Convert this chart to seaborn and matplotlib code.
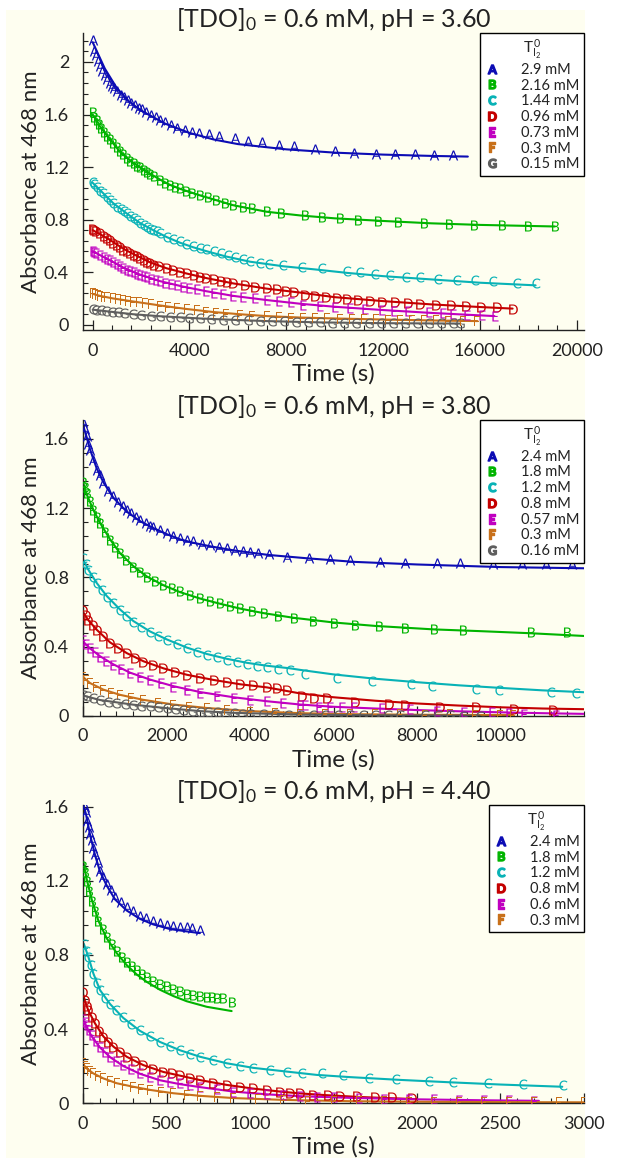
"""Absorbance decay at 468 nm for three pH values, letter markers plus fitted curves."""

import matplotlib
matplotlib.use("Agg")
import matplotlib.pyplot as plt
from matplotlib.lines import Line2D
from matplotlib.patches import Rectangle
from matplotlib.ticker import AutoMinorLocator, FormatStrFormatter
import seaborn as sns

LETTERS = ["A", "B", "C", "D", "E", "F", "G"]
COLORS = ["#0c0cb4", "#00b400", "#08b2b6", "#c40000", "#c000c0", "#c8701a", "#5e5e5e"]
IVORY = "#fefef0"

# ---- pH 3.60 ----
p1_labels = ["2.9 mM", "2.16 mM", "1.44 mM", "0.96 mM", "0.73 mM", "0.3 mM", "0.15 mM"]
p1_A_pts = [(0, 2.17), (40, 2.08), (120, 2.05), (200, 2.01), (300, 1.97), (400, 1.93), (500, 1.90), (600, 1.87),
            (700, 1.84), (800, 1.82), (900, 1.80), (1000, 1.78), (1150, 1.75), (1300, 1.73), (1450, 1.71),
            (1600, 1.69), (1750, 1.67), (1900, 1.65), (2050, 1.64), (2200, 1.62), (2400, 1.60), (2600, 1.58),
            (2800, 1.56), (3000, 1.54), (3250, 1.52), (3500, 1.50), (3800, 1.48), (4100, 1.47), (4400, 1.46),
            (4800, 1.45), (5200, 1.44), (5900, 1.42), (6400, 1.40), (7000, 1.39), (7700, 1.37), (8300, 1.36),
            (9200, 1.34), (10000, 1.32), (10800, 1.31), (11700, 1.30), (12500, 1.30), (13300, 1.30),
            (14100, 1.29), (14900, 1.29)]
p1_A_fit = [(0, 2.15), (500, 1.95), (1000, 1.80), (1500, 1.70), (2000, 1.63), (3000, 1.53), (4000, 1.46),
            (5000, 1.41), (6000, 1.375), (8000, 1.335), (10000, 1.31), (12000, 1.295), (14000, 1.285),
            (15500, 1.28)]
p1_B_pts = [(0, 1.62), (60, 1.58), (165, 1.56), (250, 1.53), (350, 1.50), (450, 1.47), (578, 1.44), (700, 1.41),
            (850, 1.38), (1000, 1.35), (1130, 1.32), (1250, 1.30), (1400, 1.27), (1540, 1.25), (1700, 1.23),
            (1850, 1.21), (1950, 1.20), (2100, 1.18), (2250, 1.16), (2370, 1.15), (2550, 1.13), (2780, 1.10),
            (3000, 1.08), (3190, 1.065), (3400, 1.05), (3600, 1.04), (3850, 1.02), (4100, 1.005), (4430, 0.99),
            (4750, 0.97), (5100, 0.95), (5450, 0.93), (5800, 0.915), (6200, 0.90), (6600, 0.885), (7190, 0.865),
            (7800, 0.85), (8780, 0.835), (9460, 0.82), (10220, 0.81), (10970, 0.80), (11800, 0.79),
            (12620, 0.785), (13700, 0.777), (14720, 0.767), (15760, 0.76), (16900, 0.76), (17980, 0.752),
            (19100, 0.755)]
p1_B_fit = [(0, 1.60), (165, 1.557), (300, 1.51), (578, 1.443), (850, 1.38), (1130, 1.316), (1540, 1.25),
            (1950, 1.20), (2370, 1.15), (2780, 1.105), (3190, 1.065), (3600, 1.035), (4430, 0.985),
            (5800, 0.91), (7190, 0.86), (8570, 0.832), (10000, 0.81), (12000, 0.79), (14000, 0.772),
            (16000, 0.76), (19100, 0.748)]
p1_C_pts = [(0, 1.09), (60, 1.07), (165, 1.05), (300, 1.02), (440, 1.00), (600, 0.97), (720, 0.95), (850, 0.925),
            (1000, 0.90), (1150, 0.88), (1280, 0.865), (1400, 0.85), (1550, 0.83), (1700, 0.81), (1820, 0.795),
            (1950, 0.775), (2100, 0.76), (2250, 0.745), (2380, 0.73), (2500, 0.72), (2650, 0.71), (2800, 0.695),
            (3050, 0.67), (3300, 0.655), (3600, 0.635), (3850, 0.615), (4150, 0.60), (4430, 0.585),
            (4700, 0.575), (5000, 0.56), (5300, 0.545), (5600, 0.53), (5900, 0.515), (6200, 0.50),
            (6500, 0.485), (6900, 0.47), (7300, 0.46), (7880, 0.456), (8640, 0.438), (9460, 0.43),
            (10500, 0.412), (11050, 0.40), (11670, 0.387), (12290, 0.375), (12950, 0.367), (13530, 0.362),
            (14270, 0.349), (15040, 0.342), (15800, 0.342), (16540, 0.334), (17520, 0.321), (18320, 0.321)]
p1_C_fit = [(0, 1.08), (165, 1.05), (440, 1.0), (850, 0.925), (1400, 0.848), (1950, 0.775), (2500, 0.72),
            (3050, 0.668), (3600, 0.625), (4150, 0.59), (4700, 0.56), (5500, 0.52), (6500, 0.48), (7880, 0.445),
            (9250, 0.42), (10500, 0.395), (12000, 0.37), (14000, 0.345), (16000, 0.32), (18300, 0.30)]
p1_D_pts = [(0, 0.73), (60, 0.72), (150, 0.71), (300, 0.696), (450, 0.675), (600, 0.66), (720, 0.645),
            (850, 0.625), (1000, 0.61), (1130, 0.59), (1270, 0.57), (1400, 0.56), (1550, 0.545), (1700, 0.53),
            (1820, 0.52), (1950, 0.51), (2100, 0.495), (2250, 0.48), (2370, 0.468), (2550, 0.455),
            (2750, 0.445), (3050, 0.43), (3300, 0.42), (3600, 0.405), (3880, 0.392), (4200, 0.38),
            (4450, 0.365), (4700, 0.355), (5000, 0.345), (5300, 0.335), (5550, 0.325), (5800, 0.317),
            (6300, 0.30), (6700, 0.29), (7190, 0.279), (7600, 0.27), (8000, 0.26), (8300, 0.25), (8780, 0.228),
            (9190, 0.22), (9640, 0.21), (10080, 0.205), (10500, 0.195), (10970, 0.19), (11460, 0.182),
            (11940, 0.175), (12490, 0.17), (13030, 0.166), (13530, 0.16), (14190, 0.152), (14810, 0.148),
            (15410, 0.139), (16040, 0.132), (16690, 0.132), (17350, 0.121)]
p1_D_fit = [(0, 0.72), (300, 0.69), (720, 0.645), (1270, 0.578), (1820, 0.525), (2370, 0.475), (3050, 0.43),
            (3880, 0.39), (4700, 0.355), (5800, 0.315), (7190, 0.275), (8570, 0.245), (10000, 0.21),
            (12000, 0.18), (14000, 0.155), (16000, 0.135), (17350, 0.123)]
p1_E_pts = [(0, 0.56), (60, 0.55), (150, 0.545), (300, 0.53), (450, 0.515), (600, 0.50), (720, 0.49),
            (850, 0.475), (1000, 0.46), (1130, 0.445), (1270, 0.43), (1400, 0.42), (1550, 0.41), (1700, 0.40),
            (1820, 0.39), (1950, 0.38), (2100, 0.37), (2250, 0.36), (2400, 0.35), (2600, 0.34), (2780, 0.33),
            (3000, 0.32), (3250, 0.31), (3500, 0.30), (3740, 0.29), (4000, 0.28), (4300, 0.27), (4700, 0.255),
            (5000, 0.245), (5400, 0.235), (5800, 0.222), (6200, 0.21), (6700, 0.20), (7190, 0.19), (7700, 0.18),
            (8200, 0.17), (8700, 0.152), (9390, 0.139), (10010, 0.135), (10630, 0.127), (11250, 0.12),
            (11940, 0.115), (12450, 0.106), (13030, 0.101), (13900, 0.094), (14480, 0.089), (14890, 0.084),
            (15450, 0.076), (16070, 0.076), (16620, 0.068)]
p1_E_fit = [(0, 0.56), (300, 0.53), (720, 0.49), (1270, 0.435), (1950, 0.382), (2780, 0.332), (3740, 0.29),
            (4700, 0.255), (5800, 0.22), (7190, 0.188), (8570, 0.16), (10000, 0.137), (12000, 0.112),
            (14000, 0.09), (16600, 0.066)]
p1_F_pts = [(0, 0.24), (80, 0.235), (200, 0.225), (300, 0.22), (450, 0.215), (600, 0.21), (850, 0.20),
            (1050, 0.195), (1250, 0.19), (1450, 0.183), (1680, 0.177), (1900, 0.17), (2150, 0.163),
            (2400, 0.155), (2780, 0.145), (3100, 0.138), (3500, 0.128), (3880, 0.119), (4300, 0.11),
            (4700, 0.10), (5100, 0.092), (5500, 0.085), (6090, 0.076), (6600, 0.07), (7190, 0.063),
            (7700, 0.058), (8200, 0.055), (8700, 0.052), (9200, 0.05), (9700, 0.048), (10200, 0.046),
            (10700, 0.045), (11200, 0.043), (11700, 0.042), (12200, 0.04), (12700, 0.038), (13200, 0.036),
            (13700, 0.035), (14200, 0.033), (14700, 0.031), (15300, 0.03), (15870, 0.028)]
p1_F_fit = [(0, 0.235), (300, 0.22), (850, 0.2), (1680, 0.177), (2780, 0.147), (3880, 0.12), (4980, 0.097),
            (6090, 0.08), (7190, 0.066), (8570, 0.055), (10000, 0.048), (12000, 0.04), (14000, 0.033),
            (15900, 0.028)]
p1_G_pts = [(0, 0.12), (150, 0.115), (350, 0.11), (550, 0.105), (800, 0.10), (1050, 0.095), (1300, 0.087),
            (1680, 0.08), (2000, 0.075), (2400, 0.07), (2800, 0.065), (3200, 0.06), (3600, 0.056),
            (4000, 0.052), (4430, 0.05), (4900, 0.045), (5400, 0.04), (5900, 0.037), (6400, 0.033),
            (6900, 0.03), (7400, 0.027), (7900, 0.025), (8400, 0.022), (8900, 0.02), (9400, 0.018),
            (9900, 0.017), (10400, 0.016), (10900, 0.015), (11400, 0.014), (11900, 0.013), (12400, 0.013),
            (12900, 0.012), (13400, 0.012), (13900, 0.011), (14400, 0.011), (14900, 0.01), (15180, 0.01)]
p1_G_fit = [(0, 0.115), (800, 0.098), (1680, 0.08), (2780, 0.065), (4430, 0.048), (6000, 0.036), (7190, 0.028),
            (9400, 0.018), (12000, 0.012), (15200, 0.009)]

# ---- pH 3.80 ----
p2_labels = ["2.4 mM", "1.8 mM", "1.2 mM", "0.8 mM", "0.57 mM", "0.3 mM", "0.16 mM"]
p2_A_pts = [(0, 1.70), (40, 1.66), (88, 1.615), (130, 1.57), (168, 1.537), (250, 1.48), (328, 1.42), (400, 1.39),
            (488, 1.345), (600, 1.30), (728, 1.268), (850, 1.235), (950, 1.21), (1048, 1.19), (1150, 1.17),
            (1260, 1.15), (1367, 1.133), (1500, 1.115), (1600, 1.10), (1687, 1.094), (1850, 1.075),
            (2007, 1.056), (2150, 1.04), (2326, 1.027), (2480, 1.015), (2646, 1.008), (2850, 0.995),
            (3046, 0.988), (3250, 0.978), (3450, 0.968), (3645, 0.96), (3830, 0.95), (4005, 0.945),
            (4200, 0.94), (4444, 0.935), (4885, 0.921), (5403, 0.911), (5920, 0.905), (6400, 0.898),
            (7120, 0.888), (7722, 0.883), (8480, 0.883), (9026, 0.883), (9832, 0.88), (10520, 0.88),
            (11080, 0.878), (11720, 0.878)]
p2_A_fit = [(0, 1.68), (88, 1.61), (168, 1.54), (328, 1.43), (488, 1.35), (728, 1.26), (1048, 1.18), (1367, 1.125),
            (1687, 1.085), (2007, 1.05), (2326, 1.02), (2646, 1.0), (3046, 0.98), (3645, 0.955), (4444, 0.93),
            (5403, 0.91), (6500, 0.89), (8000, 0.875), (10000, 0.86), (12000, 0.853)]
p2_B_pts = [(0, 1.354), (40, 1.32), (88, 1.287), (170, 1.24), (248, 1.19), (330, 1.15), (408, 1.114),
            (520, 1.065), (648, 1.017), (770, 0.975), (887, 0.94), (1040, 0.90), (1207, 0.863), (1370, 0.832),
            (1527, 0.805), (1720, 0.78), (1927, 0.757), (2120, 0.737), (2326, 0.719), (2560, 0.70),
            (2806, 0.68), (3040, 0.665), (3285, 0.651), (3520, 0.637), (3765, 0.623), (4040, 0.608),
            (4324, 0.594), (4680, 0.58), (5044, 0.565), (5506, 0.551), (6003, 0.539), (6507, 0.526),
            (7083, 0.52), (7722, 0.507), (8417, 0.501), (9105, 0.497), (10720, 0.487), (11600, 0.487)]
p2_B_fit = [(0, 1.35), (88, 1.28), (248, 1.19), (408, 1.115), (648, 1.02), (887, 0.94), (1207, 0.865),
            (1527, 0.806), (1927, 0.755), (2326, 0.715), (2806, 0.678), (3285, 0.648), (3765, 0.62),
            (4324, 0.594), (5044, 0.567), (6000, 0.54), (7000, 0.52), (8400, 0.50), (9500, 0.49),
            (10700, 0.478), (12000, 0.462)]
p2_C_pts = [(0, 0.911), (60, 0.875), (128, 0.844), (230, 0.805), (328, 0.767), (450, 0.728), (568, 0.69),
            (720, 0.65), (887, 0.613), (1040, 0.578), (1207, 0.545), (1400, 0.515), (1607, 0.487), (1800, 0.462),
            (2007, 0.44), (2240, 0.415), (2486, 0.391), (2720, 0.372), (2966, 0.353), (3200, 0.338),
            (3445, 0.324), (3690, 0.31), (3925, 0.30), (4160, 0.29), (4404, 0.281), (4680, 0.272),
            (4964, 0.266), (5324, 0.245), (6084, 0.218), (6923, 0.202), (7866, 0.183), (8362, 0.173),
            (9417, 0.156), (9960, 0.15), (11200, 0.137), (11800, 0.131)]
p2_C_fit = [(0, 0.905), (128, 0.845), (328, 0.768), (568, 0.693), (887, 0.615), (1207, 0.548), (1607, 0.488),
            (2007, 0.442), (2486, 0.395), (2966, 0.358), (3445, 0.33), (3925, 0.307), (4404, 0.29),
            (4964, 0.275), (5204, 0.266), (6000, 0.24), (7000, 0.215), (8000, 0.195), (9000, 0.177),
            (10000, 0.162), (11000, 0.148), (12000, 0.137)]
p2_D_pts = [(0, 0.613), (60, 0.585), (128, 0.555), (230, 0.525), (328, 0.497), (480, 0.46), (648, 0.42),
            (850, 0.39), (1048, 0.362), (1250, 0.337), (1447, 0.314), (1680, 0.295), (1927, 0.276),
            (2200, 0.256), (2486, 0.237), (2800, 0.222), (3126, 0.208), (3450, 0.196), (3765, 0.185),
            (4080, 0.177), (4404, 0.17), (4650, 0.16), (4884, 0.15), (5250, 0.118), (5523, 0.106),
            (5843, 0.102), (6523, 0.079), (7321, 0.069), (7722, 0.064), (8561, 0.054), (9417, 0.05),
            (10320, 0.039), (11254, 0.035)]
p2_D_fit = [(0, 0.60), (128, 0.553), (328, 0.498), (648, 0.425), (1048, 0.363), (1447, 0.316), (1927, 0.275),
            (2486, 0.238), (3126, 0.208), (3765, 0.183), (4404, 0.165), (5204, 0.13), (6000, 0.108),
            (7000, 0.088), (8000, 0.072), (9000, 0.06), (10000, 0.05), (11000, 0.043), (12000, 0.039)]
p2_E_pts = [(0, 0.44), (80, 0.415), (168, 0.391), (280, 0.367), (408, 0.343), (560, 0.318), (728, 0.295),
            (920, 0.27), (1127, 0.247), (1360, 0.227), (1607, 0.208), (1880, 0.188), (2166, 0.17), (2480, 0.15),
            (2806, 0.131), (3200, 0.115), (3605, 0.102), (4000, 0.094), (4404, 0.087), (4800, 0.075),
            (5204, 0.064), (5324, 0.064), (5643, 0.054), (5923, 0.054), (6203, 0.052), (6483, 0.05),
            (7163, 0.044), (7842, 0.039), (8481, 0.031), (9121, 0.025), (9800, 0.02), (10200, 0.017),
            (10560, 0.014), (11320, 0.008)]
p2_E_fit = [(0, 0.43), (168, 0.39), (408, 0.345), (728, 0.298), (1127, 0.25), (1607, 0.21), (2166, 0.172),
            (2806, 0.138), (3605, 0.108), (4404, 0.085), (5204, 0.066), (6000, 0.053), (7000, 0.043),
            (8000, 0.034), (9000, 0.027), (10000, 0.021), (11000, 0.016), (12000, 0.012)]
p2_F_pts = [(0, 0.227), (80, 0.205), (168, 0.189), (320, 0.168), (488, 0.15), (680, 0.135), (887, 0.121),
            (1150, 0.105), (1447, 0.092), (1800, 0.077), (2166, 0.064), (2550, 0.054), (2966, 0.044),
            (3450, 0.034), (4005, 0.025), (4600, 0.018), (5204, 0.012), (5800, 0.012), (6400, 0.01),
            (7000, 0.012), (7600, 0.01), (8200, 0.008), (8800, 0.01), (9400, 0.008), (10000, 0.006),
            (10300, 0.008)]
p2_F_fit = [(0, 0.225), (168, 0.19), (488, 0.152), (887, 0.122), (1447, 0.093), (2166, 0.066), (2966, 0.046),
            (4005, 0.028), (5204, 0.016), (6500, 0.01), (8000, 0.007), (10300, 0.005)]
p2_G_pts = [(0, 0.121), (100, 0.113), (250, 0.103), (408, 0.092), (600, 0.083), (800, 0.075), (1000, 0.07),
            (1207, 0.064), (1400, 0.06), (1600, 0.055), (1800, 0.05), (2007, 0.044), (2200, 0.04),
            (2400, 0.035), (2600, 0.03), (2806, 0.025), (3000, 0.023), (3200, 0.02), (3400, 0.018),
            (3605, 0.015), (3800, 0.014), (4000, 0.012), (4300, 0.011), (4600, 0.009), (4900, 0.008),
            (5204, 0.006), (5500, 0.006), (5800, 0.005), (6100, 0.005), (6400, 0.005), (6700, 0.004),
            (7000, 0.004), (7300, 0.004), (7600, 0.004), (8200, 0.003), (8500, 0.003), (8800, 0.003),
            (9100, 0.002), (9500, 0.002)]
p2_G_fit = [(0, 0.118), (408, 0.092), (1207, 0.065), (2007, 0.045), (2806, 0.028), (3605, 0.018), (5204, 0.008),
            (7000, 0.004), (9500, 0.002)]

# ---- pH 4.40 ----
p3_labels = ["2.4 mM", "1.8 mM", "1.2 mM", "0.8 mM", "0.6 mM", "0.3 mM"]
p3_A_pts = [(10, 1.60), (18, 1.57), (26, 1.525), (34, 1.49), (42, 1.453), (52, 1.42), (62, 1.38), (72, 1.345),
            (87, 1.30), (102, 1.255), (122, 1.22), (142, 1.184), (167, 1.15), (192, 1.112), (227, 1.085),
            (262, 1.058), (300, 1.035), (341, 1.013), (380, 0.998), (421, 0.986), (460, 0.975), (500, 0.962),
            (540, 0.958), (580, 0.952), (620, 0.95), (650, 0.945), (700, 0.936)]
p3_A_fit = [(5, 1.60), (18, 1.56), (42, 1.45), (72, 1.34), (102, 1.25), (142, 1.175), (192, 1.10), (262, 1.04),
            (341, 0.995), (421, 0.965), (521, 0.94), (600, 0.93), (700, 0.918)]
p3_B_pts = [(0, 1.282), (10, 1.25), (22, 1.20), (37, 1.145), (52, 1.094), (72, 1.04), (92, 0.986), (117, 0.94),
            (142, 0.896), (172, 0.86), (202, 0.824), (232, 0.79), (262, 0.761), (292, 0.738), (321, 0.717),
            (351, 0.698), (381, 0.68), (421, 0.662), (461, 0.645), (501, 0.63), (541, 0.618), (581, 0.604),
            (621, 0.591), (660, 0.585), (700, 0.58), (741, 0.573), (770, 0.572), (800, 0.57), (840, 0.565),
            (890, 0.546)]
p3_B_fit = [(0, 1.31), (22, 1.21), (52, 1.10), (92, 0.985), (142, 0.89), (202, 0.81), (262, 0.745), (321, 0.695),
            (381, 0.655), (461, 0.612), (541, 0.578), (621, 0.55), (741, 0.52), (890, 0.497)]
p3_C_pts = [(5, 0.86), (18, 0.82), (32, 0.788), (47, 0.745), (62, 0.699), (82, 0.65), (102, 0.609), (132, 0.57),
            (162, 0.537), (200, 0.50), (241, 0.465), (290, 0.427), (341, 0.393), (400, 0.36), (461, 0.33),
            (520, 0.306), (581, 0.286), (640, 0.266), (701, 0.25), (780, 0.232), (860, 0.214), (940, 0.2),
            (1020, 0.187), (1120, 0.177), (1220, 0.169), (1309, 0.163), (1429, 0.16), (1555, 0.151),
            (1715, 0.138), (1874, 0.128), (2074, 0.12), (2214, 0.115), (2423, 0.109), (2633, 0.102),
            (2872, 0.097)]
p3_C_fit = [(5, 0.86), (32, 0.79), (62, 0.70), (102, 0.61), (162, 0.535), (241, 0.46), (341, 0.39), (461, 0.33),
            (581, 0.285), (701, 0.25), (860, 0.215), (1020, 0.19), (1220, 0.17), (1400, 0.152), (1600, 0.14),
            (1900, 0.125), (2200, 0.112), (2500, 0.1), (2870, 0.088)]
p3_D_pts = [(0, 0.60), (12, 0.555), (22, 0.525), (32, 0.50), (52, 0.465), (72, 0.43), (97, 0.39), (122, 0.357),
            (152, 0.33), (182, 0.303), (222, 0.275), (262, 0.25), (311, 0.225), (361, 0.205), (421, 0.186),
            (481, 0.169), (531, 0.16), (581, 0.151), (641, 0.137), (701, 0.124), (780, 0.11), (860, 0.097),
            (940, 0.088), (1020, 0.079), (1100, 0.07), (1180, 0.061), (1240, 0.056), (1299, 0.052),
            (1379, 0.043), (1469, 0.043), (1539, 0.038), (1639, 0.038), (1749, 0.035), (1848, 0.031),
            (1968, 0.025)]
p3_D_fit = [(0, 0.59), (12, 0.55), (32, 0.50), (72, 0.43), (122, 0.36), (182, 0.305), (262, 0.25), (361, 0.205),
            (481, 0.168), (581, 0.148), (701, 0.124), (860, 0.098), (1020, 0.078), (1180, 0.062), (1300, 0.052),
            (1450, 0.043), (1650, 0.033), (1850, 0.026), (2000, 0.021)]
p3_E_pts = [(0, 0.456), (10, 0.44), (22, 0.42), (37, 0.393), (52, 0.366), (77, 0.333), (102, 0.303),
            (132, 0.275), (162, 0.25), (200, 0.227), (241, 0.205), (290, 0.182), (341, 0.16), (400, 0.14),
            (461, 0.124), (520, 0.114), (581, 0.106), (640, 0.097), (701, 0.088), (800, 0.075), (900, 0.061),
            (1000, 0.054), (1100, 0.048), (1200, 0.043), (1299, 0.038), (1400, 0.035), (1500, 0.03),
            (1650, 0.027), (1800, 0.024), (1950, 0.022), (2100, 0.02), (2250, 0.018), (2400, 0.016),
            (2550, 0.014), (2700, 0.012)]
p3_E_fit = [(0, 0.45), (22, 0.41), (52, 0.36), (102, 0.30), (162, 0.248), (241, 0.2), (341, 0.158), (461, 0.123),
            (581, 0.102), (701, 0.086), (900, 0.062), (1100, 0.047), (1300, 0.037), (1600, 0.028), (2000, 0.02),
            (2400, 0.015), (2730, 0.012)]
p3_F_pts = [(0, 0.214), (10, 0.2), (22, 0.187), (42, 0.172), (62, 0.16), (92, 0.145), (122, 0.133), (162, 0.118),
            (202, 0.106), (250, 0.096), (301, 0.088), (350, 0.078), (401, 0.07), (470, 0.06), (541, 0.052),
            (620, 0.045), (701, 0.038), (800, 0.03), (900, 0.025), (1050, 0.02), (1200, 0.016), (1350, 0.013),
            (1500, 0.011), (1650, 0.01), (1800, 0.009), (1950, 0.008), (2100, 0.007), (2250, 0.006),
            (2400, 0.006), (2550, 0.005), (2700, 0.005), (2850, 0.005), (3000, 0.004)]
p3_F_fit = [(0, 0.21), (22, 0.187), (62, 0.16), (122, 0.133), (202, 0.107), (301, 0.088), (401, 0.071),
            (541, 0.053), (701, 0.039), (900, 0.027), (1200, 0.017), (1600, 0.01), (2000, 0.007), (2500, 0.005),
            (3000, 0.004)]

sns.set_style("ticks")
plt.rcParams["font.family"] = ["Lato", "DejaVu Sans"]
plt.rcParams["mathtext.fontset"] = "custom"
plt.rcParams["mathtext.rm"] = "Lato"
plt.rcParams["mathtext.bf"] = "Lato:bold"
plt.rcParams["mathtext.it"] = "Lato:italic"
TEXT = "#222222"


def draw_panel(ax, series, labels, title, xlim, ylim, xticks, yticks):
    ax.set_facecolor(IVORY)
    for i, (pts, fit) in enumerate(series):
        letter, color = LETTERS[i], COLORS[i]
        sns.lineplot(x=[p[0] for p in fit], y=[p[1] for p in fit], color=color, lw=1.5,
                     sort=False, estimator=None, ax=ax, zorder=2)
        sns.scatterplot(x=[p[0] for p in pts], y=[p[1] for p in pts], marker=f"$\\mathrm{{{letter}}}$",
                        color=color, s=52, linewidth=0, ax=ax, zorder=3)

    ax.set_xlim(*xlim)
    ax.set_ylim(*ylim)
    ax.set_xticks(xticks)
    ax.set_yticks(yticks)
    ax.yaxis.set_major_formatter(FormatStrFormatter("%g"))
    ax.xaxis.set_major_formatter(FormatStrFormatter("%g"))
    ax.xaxis.set_minor_locator(AutoMinorLocator(5))
    ax.yaxis.set_minor_locator(AutoMinorLocator(5))
    ax.tick_params(which="major", direction="in", length=7, width=0.9, color=TEXT,
                   labelcolor=TEXT, labelsize=13)
    ax.tick_params(which="minor", direction="in", length=3.5, width=0.8, color=TEXT)
    ax.tick_params(axis="x", which="major", pad=9)
    ax.tick_params(axis="y", which="major", pad=10)
    sns.despine(ax=ax)
    for s in ("left", "bottom"):
        ax.spines[s].set_color(TEXT)
        ax.spines[s].set_linewidth(1.0)

    ax.set_xlabel("Time (s)", fontsize=17.5, color=TEXT, labelpad=3)
    ax.set_ylabel("Absorbance at 468 nm", fontsize=16, color=TEXT, labelpad=2)
    ax.set_title(title, fontsize=18, color=TEXT, pad=2)

    handles = [Line2D([], [], ls="none", marker=f"$\\mathbf{{{LETTERS[i]}}}$", color=COLORS[i],
                      markersize=6.5) for i in range(len(labels))]
    leg = ax.legend(handles, labels, title=r"$\mathrm{T}_{\mathrm{I}_2}^{\,0}$", loc="upper right",
                    bbox_to_anchor=(1.0, 1.0), borderaxespad=0, fontsize=10.5, title_fontsize=11,
                    frameon=True, fancybox=False, framealpha=1, edgecolor="black",
                    handlelength=1.0, handletextpad=1.5, labelspacing=0.12, borderpad=0.3)
    leg.get_frame().set_linewidth(1.0)
    leg.set_zorder(10)
    for t in leg.get_texts():
        t.set_color(TEXT)


fig = plt.figure(figsize=(6.26, 11.6), dpi=100, facecolor="white")
fig.patches.append(Rectangle((6 / 626, 2 / 1160), 579 / 626, 1148 / 1160, transform=fig.transFigure,
                             facecolor=IVORY, edgecolor="none", zorder=-1))

ax1 = fig.add_axes([0.1326, 0.7155, 0.8003, 0.2560])
ax2 = fig.add_axes([0.1326, 0.3828, 0.8003, 0.2552])
ax3 = fig.add_axes([0.1326, 0.0491, 0.8003, 0.2569])

draw_panel(ax1, [(p1_A_pts, p1_A_fit), (p1_B_pts, p1_B_fit), (p1_C_pts, p1_C_fit), (p1_D_pts, p1_D_fit),
                 (p1_E_pts, p1_E_fit), (p1_F_pts, p1_F_fit), (p1_G_pts, p1_G_fit)],
           p1_labels, r"[TDO]$_0$ = 0.6 mM, pH = 3.60", (-400, 20300), (-0.04, 2.22),
           [0, 4000, 8000, 12000, 16000, 20000], [0, 0.4, 0.8, 1.2, 1.6, 2.0])
draw_panel(ax2, [(p2_A_pts, p2_A_fit), (p2_B_pts, p2_B_fit), (p2_C_pts, p2_C_fit), (p2_D_pts, p2_D_fit),
                 (p2_E_pts, p2_E_fit), (p2_F_pts, p2_F_fit), (p2_G_pts, p2_G_fit)],
           p2_labels, r"[TDO]$_0$ = 0.6 mM, pH = 3.80", (0, 12000), (0, 1.71),
           [0, 2000, 4000, 6000, 8000, 10000], [0, 0.4, 0.8, 1.2, 1.6])
draw_panel(ax3, [(p3_A_pts, p3_A_fit), (p3_B_pts, p3_B_fit), (p3_C_pts, p3_C_fit), (p3_D_pts, p3_D_fit),
                 (p3_E_pts, p3_E_fit), (p3_F_pts, p3_F_fit)],
           p3_labels, r"[TDO]$_0$ = 0.6 mM, pH = 4.40", (0, 3000), (0, 1.61),
           [0, 500, 1000, 1500, 2000, 2500, 3000], [0, 0.4, 0.8, 1.2, 1.6])

fig.savefig("out.png", dpi=100, facecolor=fig.get_facecolor())
